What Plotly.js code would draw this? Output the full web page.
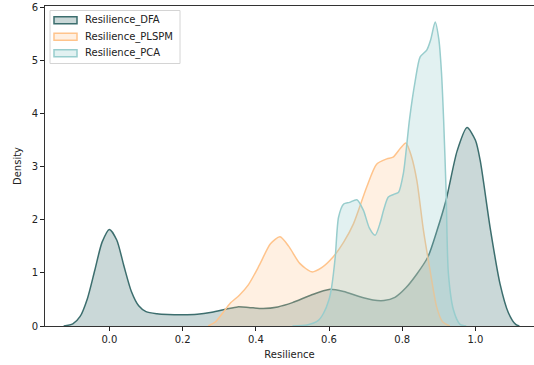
<!DOCTYPE html>
<html>
<head>
<meta charset="utf-8">
<script src="https://cdn.plot.ly/plotly-3.0.1.min.js"></script>
<style>html,body{margin:0;padding:0;background:#fff;}#chart{width:534px;height:365px;}</style>
</head>
<body>
<div id="chart"></div>
<script>
const seriesNames = ["Resilience_DFA", "Resilience_PLSPM", "Resilience_PCA"];

const dfaX = [-0.125,-0.10,-0.08,-0.06,-0.04,-0.02,0.0,0.02,0.04,0.06,0.08,0.10,0.13,0.16,0.20,0.24,0.28,0.32,0.35,0.38,0.42,0.46,0.50,0.55,0.60,0.64,0.68,0.72,0.75,0.78,0.81,0.84,0.87,0.895,0.92,0.95,0.977,1.0,1.013,1.04,1.067,1.09,1.11,1.12];
const dfaY = [0,0.04,0.18,0.52,1.05,1.58,1.82,1.62,1.12,0.65,0.38,0.27,0.23,0.215,0.21,0.22,0.26,0.32,0.36,0.35,0.33,0.36,0.44,0.58,0.69,0.65,0.56,0.49,0.48,0.54,0.72,0.98,1.30,1.8,2.38,3.3,3.74,3.5,3.12,1.86,0.8,0.25,0.03,0];

const plspmX = [0.27,0.29,0.31,0.33,0.355,0.38,0.41,0.44,0.466,0.49,0.52,0.553,0.58,0.611,0.64,0.667,0.703,0.73,0.758,0.775,0.795,0.81,0.825,0.84,0.858,0.876,0.894,0.91,0.93];
const plspmY = [0,0.08,0.25,0.43,0.58,0.78,1.15,1.55,1.68,1.50,1.18,1.02,1.10,1.30,1.58,1.93,2.62,3.05,3.15,3.18,3.35,3.45,3.2,2.74,1.80,1.05,0.36,0.08,0];

const pcaX = [0.50,0.54,0.57,0.585,0.60,0.607,0.617,0.626,0.64,0.656,0.676,0.694,0.71,0.726,0.74,0.749,0.762,0.78,0.79,0.803,0.82,0.835,0.849,0.867,0.878,0.89,0.90,0.907,0.913,0.92,0.926,0.94,0.958,0.975];
const pcaY = [0,0.02,0.1,0.24,0.5,0.73,1.30,2.05,2.30,2.33,2.38,2.18,1.85,1.71,1.95,2.18,2.43,2.49,2.52,2.87,3.9,4.6,5.07,5.2,5.4,5.73,5.4,4.8,3.9,2.5,1.0,0.3,0.03,0];

const xTicks = [0.0,0.2,0.4,0.6,0.8,1.0];
const xTickText = ["0.0","0.2","0.4","0.6","0.8","1.0"];
const yTicks = [0,1,2,3,4,5,6];

const lineColors = ["#3c6e6e", "#ffc48c", "#98cdcd"];
const fillColors = ["rgba(60,110,110,0.27)", "rgba(255,196,140,0.25)", "rgba(152,205,205,0.28)"];

const xs = [dfaX, plspmX, pcaX];
const ys = [dfaY, plspmY, pcaY];

const traces = seriesNames.map((n, i) => ({
  type: "scatter",
  mode: "lines",
  name: n,
  x: xs[i],
  y: ys[i],
  fill: "tozeroy",
  fillcolor: fillColors[i],
  line: {color: lineColors[i], width: 1.5, shape: "spline", smoothing: 0.7},
  showlegend: false
}));

// Legend drawn with shapes/annotations (matplotlib-style box)
const W = 534, H = 365, ML = 45, MR = 0, MT = 6, MB = 39;
const PW = W - ML - MR, PH = H - MT - MB;
const px = v => (v - ML) / PW;
const py = v => 1 - (v - MT) / PH;

const shapes = [{
  type: "rect", xref: "paper", yref: "paper",
  x0: px(50), x1: px(180), y0: py(10.5), y1: py(63.5),
  line: {color: "#d4d4d4", width: 1}, fillcolor: "rgba(255,255,255,0.8)", layer: "above"
}];
const annotations = [];
const rowY = [20.3, 36.8, 53.3];
seriesNames.forEach((n, i) => {
  shapes.push({
    type: "rect", xref: "paper", yref: "paper",
    x0: px(54), x1: px(77), y0: py(rowY[i] - 3.5), y1: py(rowY[i] + 3.5),
    line: {color: lineColors[i], width: 1.5}, fillcolor: fillColors[i], layer: "above"
  });
  annotations.push({
    xref: "paper", yref: "paper", x: px(83), y: py(rowY[i]),
    xanchor: "left", yanchor: "middle", showarrow: false,
    text: n, font: {family: "DejaVu Sans", size: 10, color: "#222"}
  });
});

const layout = {
  width: W, height: H,
  margin: {l: ML, r: MR, t: MT, b: MB},
  paper_bgcolor: "#fff", plot_bgcolor: "#fff",
  font: {family: "DejaVu Sans", size: 10, color: "#222"},
  showlegend: false,
  shapes: shapes,
  annotations: annotations,
  xaxis: {
    range: [-0.176, 1.16],
    tickvals: xTicks, ticktext: xTickText,
    ticks: "outside", ticklen: 4, tickcolor: "#222",
    showgrid: false, zeroline: false,
    showline: true, linecolor: "#333", linewidth: 1, mirror: true,
    title: {text: "Resilience", font: {size: 10}, standoff: 6}
  },
  yaxis: {
    range: [0, 6.03],
    tickvals: yTicks,
    ticks: "outside", ticklen: 4, tickcolor: "#222",
    showgrid: false, zeroline: false,
    showline: true, linecolor: "#333", linewidth: 1,
    title: {text: "Density", font: {size: 10}, standoff: 8}
  }
};

Plotly.newPlot("chart", traces, layout, {displayModeBar: false, staticPlot: true});
</script>
</body>
</html>
